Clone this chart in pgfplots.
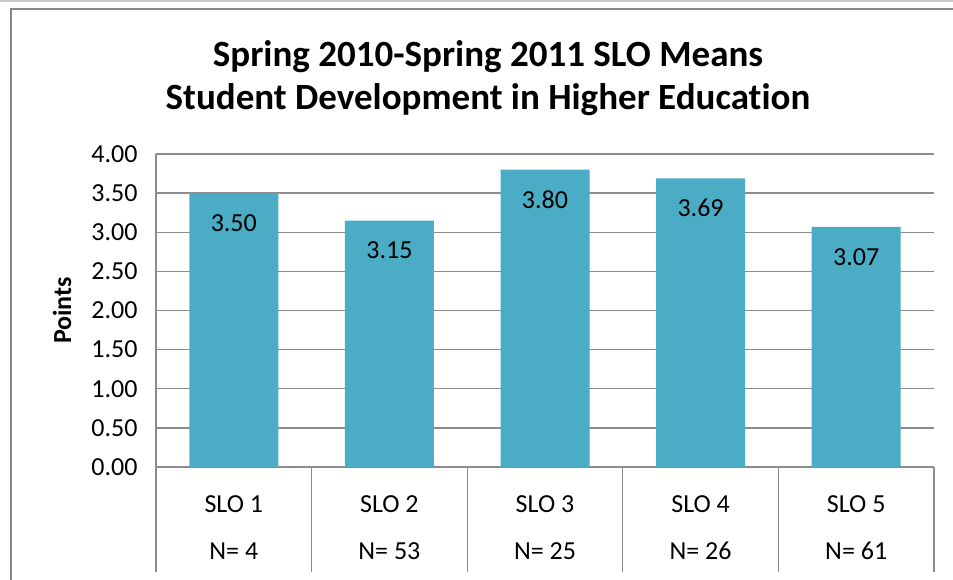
\documentclass[border=0pt]{standalone}
\usepackage{pgfplots}
\pgfplotsset{compat=1.18}
\usepackage{fontspec}
\setmainfont{Carlito}[Ligatures=NoCommon]
\definecolor{barc}{HTML}{4BACC6}
\definecolor{gridc}{HTML}{8C8C8C}
\definecolor{framec}{HTML}{878787}
\definecolor{topc}{HTML}{CBCBCB}
\begin{document}
\begin{tikzpicture}
\useasboundingbox (-156pt,-113pt) rectangle (797pt,467pt);
\fill[white] (-156pt,-113pt) rectangle (797pt,467pt);
\draw[topc, line width=1.5pt] (-156pt,466.2pt) -- (797pt,466.2pt);
\draw[framec, line width=2pt] (-145pt,-120pt) -- (-145pt,458pt) -- (800pt,458pt);
\node[font={\fontsize{37}{43}\selectfont\bfseries}, anchor=base] at (332pt,400pt) {Spring 2010-Spring 2011 SLO Means};
\node[font={\fontsize{37}{43}\selectfont\bfseries}, anchor=base] at (332pt,357pt) {Student Development in Higher Education};
\begin{axis}[
  at={(0pt,0pt)}, anchor=south west,
  scale only axis, width=778pt, height=313pt,
  xmin=-0.5, xmax=4.5, ymin=0, ymax=4,
  axis x line*=bottom, axis y line*=left,
  axis line style={gridc, line width=1.3pt},
  ytick={0,0.5,...,4},
  ymajorgrids, major grid style={gridc, line width=1.3pt},
  xtick={0,1,2,3,4},
  xticklabels={{SLO 1\\N= 4},{SLO 2\\N= 53},{SLO 3\\N= 25},{SLO 4\\N= 26},{SLO 5\\N= 61}},
  minor xtick={-0.5,0.5,1.5,2.5,3.5,4.5},
  xtick align=outside, ytick align=outside,
  major tick length=0pt, minor tick length=105pt,
  minor tick style={gridc, line width=1.3pt},
  xticklabel style={align=center, font={\fontsize{26}{47}\selectfont}, yshift=-25pt},
  yticklabel style={/pgf/number format/.cd, fixed, fixed zerofill, precision=2, assume math mode=true, /tikz/.cd, font={\fontsize{26}{31}\selectfont}, xshift=-15pt},
  ylabel={Points},
  every axis y label/.style={at={(axis description cs:-0.1208,0.5)}, rotate=90, anchor=center, font={\fontsize{26}{31}\selectfont\bfseries}},
]
\addplot[ybar, bar width=89pt, fill=barc, draw=none,
  nodes near coords={\pgfmathprintnumber[fixed,fixed zerofill,precision=2,assume math mode=true]{\pgfplotspointmeta}},
  every node near coord/.append style={anchor=center, yshift=-30pt, font={\fontsize{26}{31}\selectfont}, text=black}]
  coordinates {(0,3.50) (1,3.15) (2,3.80) (3,3.69) (4,3.07)};
\end{axis}
\end{tikzpicture}
\end{document}
